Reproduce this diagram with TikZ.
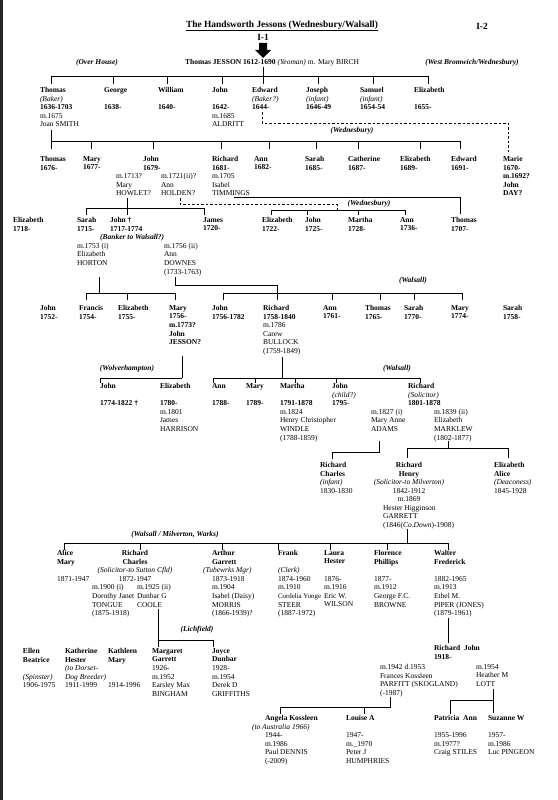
\documentclass[tikz,border=0pt]{standalone}
\usepackage{fontspec}
\setmainfont{Liberation Serif}
\newcommand\nf{\fontsize{7.5}{8.6}\selectfont}
\newcommand\bb[1]{\textbf{#1}}
\newcommand\ii[1]{\textit{#1}}
\begin{document}
\begin{tikzpicture}[x=1pt,y=-1pt,
  pers/.style={anchor=north west, inner sep=0pt, outer sep=0pt, align=left, font=\nf, yshift=2.7pt},
  persc/.style={anchor=north, inner sep=0pt, outer sep=0pt, align=center, font=\nf, yshift=2.7pt},
  place/.style={inner sep=0pt, font=\nf\bfseries\itshape},
  ln/.style={line width=0.9pt},
  dl/.style={line width=0.9pt, dash pattern=on 2.5pt off 2pt},
  hd/.style={inner sep=0pt, font=\fontsize{9.4}{10}\selectfont\bfseries}]
\useasboundingbox (0,0) rectangle (557,800);
\fill[white] (0,0) rectangle (557,800);
\fill[black!85] (0,0) rectangle (2.5,800);

% header
\node[hd] (title) at (282,26) {\underline{The Handsworth Jessons (Wednesbury/Walsall)}};
\node[hd] (sheet) at (482,26) {I-2};
\node[hd] (prev) at (263,37) {I-1};
\fill (259,43) -- (267,43) -- (267,50) -- (271,50) -- (263,58) -- (255,50) -- (259,50) -- cycle;
\node[anchor=west, inner sep=0pt, font=\nf] (root) at (185,63) {\bb{Thomas JESSON 1612-1690} \ii{(Yeoman)} m. Mary BIRCH};
\node[place] (l1) at (97,63) {(Over House)};
\node[place] (l2) at (472,63) {(West Bromwich/Wednesbury)};

% generation 1
\draw[ln] (263,67) -- (263,76);
\draw[ln] (51,76) -- (428,76);
\foreach \x in {51,113,167,222,263,318,373,428} \draw[ln] (\x,76) -- (\x,84);
\node[pers] (t1) at (40,90) {\bb{Thomas}\\\ii{(Baker)}\\\bb{1636-1703}\\m.1675\\Joan SMITH};
\node[pers] (t2) at (104,90) {\bb{George}\\~\\\bb{1638-}};
\node[pers] (t3) at (158,90) {\bb{William}\\~\\\bb{1640-}};
\node[pers] (t4) at (212,90) {\bb{John}\\~\\\bb{1642-}\\m.1685\\ALDRITT};
\node[pers] (t5) at (252,90) {\bb{Edward}\\\ii{(Baker?)}\\\bb{1644-}};
\node[pers] (t6) at (306,90) {\bb{Joseph}\\\ii{(infant)}\\\bb{1646-49}};
\node[pers] (t7) at (360,90) {\bb{Samuel}\\\ii{(infant)}\\\bb{1654-54}};
\node[pers] (t8) at (414,90) {\bb{Elizabeth}\\~\\\bb{1655-}};

% Edward dashed to Marie
\draw[dl] (262,112) -- (262,123) -- (508,123) -- (508,152);
\node[place] (l3) at (352,131) {(Wednesbury)};

% generation 2
\draw[ln] (51,130) -- (51,141);
\draw[ln] (51,141) -- (460,141);
\foreach \x in {51,91,153,221,269,316,358,420,460} \draw[ln] (\x,141) -- (\x,149);
\node[pers] (u1) at (40,159) {\bb{Thomas}\\\bb{1676-}};
\node[pers] (u2) at (83,159) {\bb{Mary}\\\bb{1677-}};
\node[pers] (u3) at (143,159) {\bb{John}\\\bb{1679-}};
\node[pers] (u4) at (212,159) {\bb{Richard}\\\bb{1681-}\\m.1705\\Isabel\\TIMMINGS};
\node[pers] (u5) at (254,159) {\bb{Ann}\\\bb{1682-}};
\node[pers] (u6) at (305,159) {\bb{Sarah}\\\bb{1685-}};
\node[pers] (u7) at (348,159) {\bb{Catherine}\\\bb{1687-}};
\node[pers] (u8) at (400,159) {\bb{Elizabeth}\\\bb{1689-}};
\node[pers] (u9) at (451,159) {\bb{Edward}\\\bb{1691-}};
\node[pers] (u10) at (503,159) {\bb{Marie}\\\bb{1670-}\\\bb{m.1692?}\\\bb{John}\\\bb{DAY?}};
\node[pers] (m1) at (116,176.2) {m.1713?\\Mary\\HOWLET?};
\node[pers] (m2) at (161,176.2) {m.1721(ii)?\\Ann\\HOLDEN?};

% generation 3
\draw[ln] (234,197.5) -- (460,197.5) -- (460,214);
\draw[ln] (127,198) -- (127,215);
\draw[ln] (86,208) -- (204,208);
\draw[ln] (86,208) -- (86,215);
\draw[ln] (204,208) -- (204,215);
\draw[dl] (180,198) -- (180,204) -- (337,204) -- (337,210);
\draw[ln] (271,210) -- (405,210);
\foreach \x in {271,307,358,405} \draw[ln] (\x,210) -- (\x,215);
\node[place] (l4) at (369,204) {(Wednesbury)};
\node[pers] (v1) at (13,220) {\bb{Elizabeth}\\\bb{1718-}};
\node[pers] (v2) at (77,220) {\bb{Sarah}\\\bb{1715-}};
\node[pers] (v3) at (110,220) {\bb{John \textdagger}\\\bb{1717-1774}};
\node[pers] (v4) at (203,220) {\bb{James}\\\bb{1720-}};
\node[pers] (v5) at (262,220) {\bb{Elizabeth}\\\bb{1722-}};
\node[pers] (v6) at (305,220) {\bb{John}\\\bb{1725-}};
\node[pers] (v7) at (348,220) {\bb{Martha}\\\bb{1728-}};
\node[pers] (v8) at (400,220) {\bb{Ann}\\\bb{1736-}};
\node[pers] (v9) at (451,220) {\bb{Thomas}\\\bb{1707-}};
\node[place, anchor=west] (l5) at (100,237.2) {(Banker to Walsall?)};
\node[pers] (m3) at (77,245.8) {m.1753 (i)\\Elizabeth\\HORTON};
\node[pers] (m4) at (164,245.8) {m.1756 (ii)\\Ann\\DOWNES\\(1733-1763)};

% generation 4
\draw[ln] (99,277) -- (99,293);
\draw[ln] (86,293) -- (175,293);
\foreach \x in {86,127,175} \draw[ln] (\x,293) -- (\x,300);
\draw[ln] (175,277) -- (175,285) -- (277,285) -- (277,300);
\draw[ln] (223,293) -- (462,293);
\foreach \x in {223,332,380,414,462} \draw[ln] (\x,293) -- (\x,300);
\node[place] (l6) at (413,281) {(Walsall)};
\node[pers] (w1) at (40,308) {\bb{John}\\\bb{1752-}};
\node[pers] (w2) at (79,308) {\bb{Francis}\\\bb{1754-}};
\node[pers] (w3) at (118,308) {\bb{Elizabeth}\\\bb{1755-}};
\node[pers] (w4) at (169,308) {\bb{Mary}\\\bb{1756-}\\\bb{m.1773?}\\\bb{John}\\\bb{JESSON?}};
\node[pers] (w5) at (212,308) {\bb{John}\\\bb{1756-1782}};
\node[pers] (w6) at (263,308) {\bb{Richard}\\\bb{1758-1840}\\m.1786\\Carew\\BULLOCK\\(1759-1849)};
\node[pers] (w7) at (323,308) {\bb{Ann}\\\bb{1761-}};
\node[pers] (w8) at (365,308) {\bb{Thomas}\\\bb{1765-}};
\node[pers] (w9) at (404,308) {\bb{Sarah}\\\bb{1770-}};
\node[pers] (w10) at (451,308) {\bb{Mary}\\\bb{1774-}};
\node[pers] (w11) at (503,308) {\bb{Sarah}\\\bb{1758-}};

% generation 5
\draw[ln] (182,356) -- (182,378);
\draw[ln] (100,378) -- (182,378);
\draw[ln] (100,378) -- (100,383);
\node[place] (l7) at (127,369) {(Wolverhampton)};
\draw[ln] (282,357) -- (282,378);
\draw[ln] (213,378) -- (420,378);
\foreach \x in {213,255,295,336,420} \draw[ln] (\x,378) -- (\x,383);
\node[place] (l8) at (397,369) {(Walsall)};
\node[pers] (x1) at (100,386) {\bb{John}\\~\\\bb{1774-1822 \textdagger}};
\node[pers] (x2) at (160,386) {\bb{Elizabeth}\\~\\\bb{1780-}\\m.1801\\James\\HARRISON};
\node[pers] (x3) at (212,386) {\bb{Ann}\\~\\\bb{1788-}};
\node[pers] (x4) at (246,386) {\bb{Mary}\\~\\\bb{1789-}};
\node[pers] (x5) at (280,386) {\bb{Martha}\\~\\\bb{1791-1878}\\m.1824\\Henry Christopher\\WINDLE\\(1788-1859)};
\node[pers] (x6) at (332,386) {\bb{John}\\\ii{(child?)}\\\bb{1795-}};
\node[pers] (x7) at (408,386) {\bb{Richard}\\\ii{(Solicitor)}\\\bb{1801-1878}};
\node[pers] (m5) at (371,411.8) {m.1827 (i)\\Mary Anne\\ADAMS};
\node[pers] (m6) at (434,411.8) {m.1839 (ii)\\Elizabeth\\MARKLEW\\(1802-1877)};

% generation 6
\draw[ln] (379,441) -- (379,452) -- (332,452) -- (332,459);
\draw[ln] (448,441) -- (448,448);
\draw[ln] (407,448) -- (508,448);
\draw[ln] (407,448) -- (407,458);
\draw[ln] (508,448) -- (508,458);
\node[pers] (z1) at (320,465) {\bb{Richard}\\\bb{Charles}\\\ii{(infant)}\\1830-1830};
\node[persc] (z2) at (409,465) {\bb{Richard}\\\bb{Henry}\\\ii{(Solicitor-to Milverton)}\\1842-1912\\m.1869};
\node[pers] (z3) at (383,508) {Hester Higginson\\GARRETT\\(1846(\ii{Co.Down})-1908)};
\node[pers] (z4) at (494,465) {\bb{Elizabeth}\\\bb{Alice}\\\ii{(Deaconess)}\\1845-1928};

% generation 7
\draw[ln] (407,529) -- (407,543);
\draw[ln] (64,543) -- (448,543);
\foreach \x in {64,140,222,278,330,387,448} \draw[ln] (\x,543) -- (\x,550);
\node[place] (l9) at (175,535) {(Walsall / Milverton, Warks)};
\node[pers] (r1) at (57,553) {\bb{Alice}\\\bb{Mary}\\~\\1871-1947};
\node[persc] (r2) at (135,553) {\bb{Richard}\\\bb{Charles}\\\ii{(Solicitor-to Sutton Cfld)}\\1872-1947};
\node[pers] (m7) at (92,587.4) {m.1900 (i)\\Dorothy Janet\\TONGUE\\(1875-1918)};
\node[pers] (m8) at (137,587.4) {m.1925 (ii)\\Dunbar G\\COOLE};
\node[pers] (r3) at (212,553) {\bb{Arthur}\\\bb{Garrett}\\\hspace*{-9pt}\ii{(Tubewrks Mgr)}\\1873-1918\\m.1904\\Isabel (Daisy)\\MORRIS\\(1866-1939)?};
\node[pers] (r4) at (278,553) {\bb{Frank}\\~\\\ii{(Clerk)}\\1874-1960\\m.1910\\{\fontsize{6.9}{8.6}\selectfont Cordelia Yonge}\\STEER\\(1887-1972)};
\node[pers] (r5) at (324,553) {\bb{Laura}\\\bb{Hester}\\~\\1876-\\m.1916\\Eric W.\\WILSON};
\node[pers] (r6) at (374,553) {\bb{Florence}\\\bb{Phillips}\\~\\1877-\\m.1912\\George F.C.\\BROWNE};
\node[pers] (r7) at (434,553) {\bb{Walter}\\\bb{Frederick}\\~\\1882-1965\\m.1913\\Ethel M.\\PIPER (JONES)\\(1879-1961)};

% generation 8
\draw[ln] (448,618) -- (448,643);
\node[pers] (rj) at (434,648) {\bb{Richard\ \ John}\\\bb{1918-}};
\draw[ln] (158,609) -- (158,647);
\draw[ln] (158,640) -- (213,640) -- (213,647);
\node[place] (l10) at (197,630) {(Lichfield)};
\node[pers] (s1) at (23,651) {\bb{Ellen}\\\bb{Beatrice}\\~\\\ii{(Spinster)}\\1906-1975};
\node[pers] (s2) at (65,651) {\bb{Katherine}\\\bb{Hester}\\\ii{(to Dorset-}\\\ii{Dog Breeder)}\\1911-1999};
\node[pers] (s3) at (108,651) {\bb{Kathleen}\\\bb{Mary}\\~\\~\\1914-1996};
\node[pers] (s4) at (152,651) {\bb{Margaret}\\\bb{Garrett}\\1926-\\m.1952\\Earsley Max\\BINGHAM};
\node[pers] (s5) at (212,651) {\bb{Joyce}\\\bb{Dunbar}\\1928-\\m.1954\\Derek D\\GRIFFITHS};
\node[pers] (m9) at (380,667) {m.1942 d.1953\\Frances Kossleen\\PARFITT (SKOGLAND)\\(-1987)};
\node[pers] (m10) at (476,667) {m.1954\\Heather M\\LOTT};

% generation 9
\draw[ln] (390,697) -- (390,707) -- (280,707) -- (280,714);
\draw[ln] (364,707) -- (364,714);
\draw[ln] (493,689) -- (493,713);
\draw[ln] (450,700) -- (493,700);
\draw[ln] (450,700) -- (450,714);
\node[pers] (a1) at (265,718) {\bb{Angela Kossleen}\\\hspace*{-13pt}\ii{(to Australia 1966)}\\1944-\\m.1986\\Paul DENNIS\\(-2009)};
\node[pers] (a2) at (346,718) {\bb{Louise A}\\~\\1947-\\m.\_1970\\Peter J\\HUMPHRIES};
\node[pers] (a3) at (434,718) {\bb{Patricia\ \ Ann}\\~\\1955-1996\\m.1977?\\Craig STILES};
\node[pers] (a4) at (488,718) {\bb{Suzanne W}\\~\\1957-\\m.1986\\Luc PINGEON};
\end{tikzpicture}
\end{document}
